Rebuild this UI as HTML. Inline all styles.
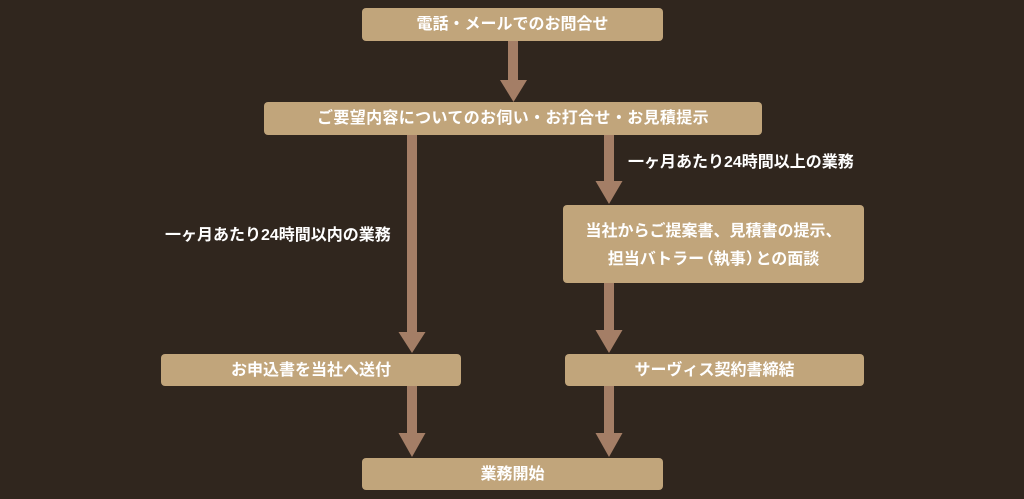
<!DOCTYPE html>
<html><head><meta charset="utf-8"><style>
html,body{margin:0;padding:0;}
body{width:1024px;height:499px;background:#30261e;position:relative;overflow:hidden;font-family:"Liberation Sans","Noto Sans CJK JP",sans-serif;}
.b{position:absolute;background:#c1a57b;border-radius:4px;color:#fff;font-weight:bold;font-size:16px;display:flex;align-items:center;justify-content:center;text-align:center;line-height:28px;box-sizing:border-box;padding-top:1px;}
.l{position:absolute;color:#fff;font-weight:bold;font-size:16px;white-space:nowrap;line-height:20px;}
.po{margin-left:-0.4em;}
.pc{margin-right:-0.4em;}
svg{position:absolute;left:0;top:0;}
</style></head><body>
<svg width="1024" height="499">
<g fill="#a47e66">
<rect x="508" y="40" width="10" height="42"/><polygon points="500,80 527,80 513.5,102"/>
<rect x="407" y="134" width="10" height="200"/><polygon points="398.5,332 425.5,332 412,353"/>
<rect x="604" y="134" width="10" height="49"/><polygon points="595.5,181 622.5,181 609,204"/>
<rect x="604" y="282" width="10" height="50"/><polygon points="595.5,330 622.5,330 609,353"/>
<rect x="407" y="385" width="10" height="50"/><polygon points="398.5,433 425.5,433 412,457"/>
<rect x="604" y="385" width="10" height="50"/><polygon points="595.5,433 622.5,433 609,457"/>
</g>
</svg>
<div class="b" style="left:362px;top:8px;width:301px;height:33px;">電話・メールでのお問合せ</div>
<div class="b" style="left:264px;top:102px;width:498px;height:33px;letter-spacing:0.35px;">ご要望内容についてのお伺い・お打合せ・お見積提示</div>
<div class="b" style="left:563px;top:205px;width:301px;height:78px;padding-top:4px;"><div>当社からご提案書、見積書の提示、<br>担当バトラー<span class="po">（</span>執事<span class="pc">）</span>との面談</div></div>
<div class="b" style="left:161px;top:354px;width:300px;height:32px;">お申込書を当社へ送付</div>
<div class="b" style="left:565px;top:354px;width:299px;height:32px;">サーヴィス契約書締結</div>
<div class="b" style="left:362px;top:458px;width:301px;height:32px;">業務開始</div>
<div class="l" style="left:165px;top:226px;">一ヶ月あたり24時間以内の業務</div>
<div class="l" style="left:628px;top:153px;">一ヶ月あたり24時間以上の業務</div>
</body></html>
